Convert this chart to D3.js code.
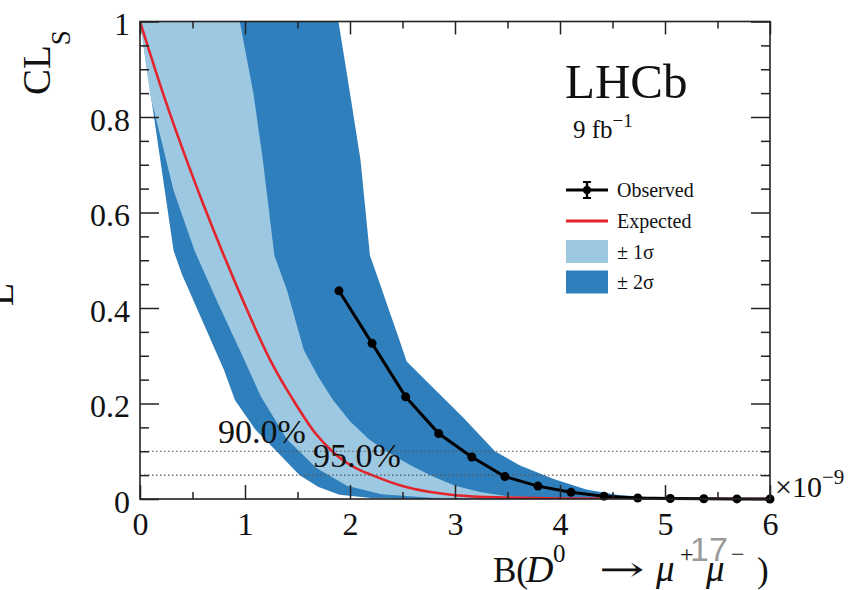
<!DOCTYPE html>
<html><head><meta charset="utf-8">
<script src="https://cdn.jsdelivr.net/npm/d3@7/dist/d3.min.js"></script>
<style>body{margin:0;background:#fff;} svg{display:block;}</style>
</head><body><svg id="c" width="856" height="590"></svg>
<script>
// ---- data, B in units of 1e-9 ----
const expectedX = [0, 0.22, 0.41, 0.60, 0.78, 0.98, 1.24, 1.46, 1.68, 1.83, 1.94, 2.07, 2.21, 2.5, 2.75, 3.0, 3.5, 4.0, 5.0, 6.0];
const expectedY = [1, 0.849, 0.73, 0.619, 0.52, 0.416, 0.291, 0.207, 0.135, 0.10, 0.08, 0.063, 0.05, 0.027, 0.015, 0.008, 0.003, 0.001, 0.0002, 0];

const minus2X = [0, 0.32, 0.40, 0.60, 0.80, 0.905, 1.10, 1.30, 1.52, 1.70, 1.90, 2.20, 2.60, 6.0];
const minus2Y = [1, 0.52, 0.47, 0.37, 0.27, 0.207, 0.145, 0.10, 0.05, 0.025, 0.009, 0.002, 0, 0];

const minus1X = [0, 0.095, 0.32, 0.52, 0.73, 0.95, 1.15, 1.40, 1.68, 1.97, 2.30, 2.80, 3.50, 6.0];
const minus1Y = [1, 0.848, 0.646, 0.52, 0.416, 0.312, 0.215, 0.125, 0.065, 0.028, 0.010, 0.002, 0, 0];

const plus1X = [0.95, 1.08, 1.17, 1.28, 1.40, 1.56, 1.70, 1.84, 2.00, 2.18, 2.36, 2.58, 2.78, 3.00, 3.25, 3.50, 4.00, 4.60, 6.0];
const plus1Y = [1, 0.85, 0.71, 0.51, 0.437, 0.312, 0.255, 0.207, 0.163, 0.125, 0.098, 0.07, 0.048, 0.028, 0.014, 0.006, 0.0015, 0, 0];

const plus2X = [1.89, 2.00, 2.10, 2.19, 2.27, 2.38, 2.46, 2.54, 2.76, 3.08, 3.38, 3.62, 3.94, 4.25, 4.57, 5.0, 5.5, 6.0];
const plus2Y = [1, 0.85, 0.71, 0.51, 0.46, 0.39, 0.34, 0.288, 0.24, 0.17, 0.10, 0.07, 0.042, 0.02, 0.008, 0.002, 0, 0];

const observedX = [1.895, 2.21, 2.53, 2.845, 3.16, 3.475, 3.79, 4.105, 4.42, 4.74, 5.05, 5.37, 5.685, 6.0];
const observedY = [0.436, 0.326, 0.214, 0.137, 0.088, 0.047, 0.027, 0.014, 0.006, 0.002, 0.001, 0.0005, 0.0002, 0.0001];
const observedErr = [0.008, 0.004, 0.003, 0.002, 0.002, 0.001, 0.001, 0, 0, 0, 0, 0, 0, 0];

const clLevels = [0.10, 0.05];
const clLabels = ["90.0%", "95.0%"];
const xTicks = [0, 1, 2, 3, 4, 5, 6];
const xMinorTicks = [0.5, 1.5, 2.5, 3.5, 4.5, 5.5];
const yTicks = [0, 0.2, 0.4, 0.6, 0.8, 1];
const yTickLabels = ["0", "0.2", "0.4", "0.6", "0.8", "1"];
const yMinorTicks = [0.05, 0.1, 0.15, 0.25, 0.3, 0.35, 0.45, 0.5, 0.55, 0.65, 0.7, 0.75, 0.85, 0.9, 0.95];
const legendItems = ["Observed", "Expected", "± 1σ", "± 2σ"];

// ---- drawing ----
const SERIF = "'Liberation Serif','Times New Roman',serif";
const LIGHT = "#9dc8e1", DARK = "#2f7fbd", RED = "#e3242b";
const svg = d3.select("#c");
const x = d3.scaleLinear().domain([0, 6]).range([140, 770]);
const y = d3.scaleLinear().domain([0, 1]).range([499, 21.5]);
const pts = (xs, ys) => xs.map((v, i) => [v, ys[i]]);
const line = d3.line().x(d => x(d[0])).y(d => y(d[1]));

svg.append("clipPath").attr("id", "clip").append("rect")
  .attr("x", 140).attr("y", 21.5).attr("width", 630).attr("height", 477.5);
const plot = svg.append("g").attr("clip-path", "url(#clip)");

const darkPoly = pts(minus2X, minus2Y).concat(pts(plus2X, plus2Y).reverse());
const lightPoly = pts(minus1X, minus1Y).concat(pts(plus1X, plus1Y).reverse());
plot.append("path").attr("d", line(darkPoly) + "Z").attr("fill", DARK);
plot.append("path").attr("d", line(lightPoly) + "Z").attr("fill", LIGHT);

// CL level dotted lines
clLevels.forEach(l => {
  svg.append("line").attr("x1", x(0)).attr("x2", x(6)).attr("y1", y(l)).attr("y2", y(l))
    .attr("stroke", "#555").attr("stroke-width", 1.2).attr("stroke-dasharray", "1.5,2.5");
});

// expected
plot.append("path").attr("d", d3.line().x(d => x(d[0])).y(d => y(d[1])).curve(d3.curveMonotoneX)(pts(expectedX, expectedY)))
  .attr("fill", "none").attr("stroke", RED).attr("stroke-width", 2.6);

// observed
const obs = pts(observedX, observedY);
svg.append("path").attr("d", line(obs)).attr("fill", "none").attr("stroke", "#000").attr("stroke-width", 3);
svg.selectAll(".oerr").data(obs.map((d, i) => [d[0], d[1], observedErr[i]]).filter(d => d[2] > 0)).enter()
  .append("line").attr("x1", d => x(d[0])).attr("x2", d => x(d[0]))
  .attr("y1", d => y(d[1] - d[2])).attr("y2", d => y(d[1] + d[2])).attr("stroke", "#000").attr("stroke-width", 3);
svg.selectAll(".opt").data(obs).enter().append("circle")
  .attr("cx", d => x(d[0])).attr("cy", d => y(d[1])).attr("r", 4.5).attr("fill", "#000");

// CL labels
svg.append("text").attr("x", 218).attr("y", 443).text(clLabels[0])
  .attr("font-family", SERIF).attr("font-size", 34).attr("fill", "#111");
svg.append("text").attr("x", 313).attr("y", 467).text(clLabels[1])
  .attr("font-family", SERIF).attr("font-size", 34).attr("fill", "#111");

// ---- axes / frame ----
function styleAxis(g) {
  g.select(".domain").remove();
  g.selectAll(".tick line").attr("stroke", "#222").attr("stroke-width", 1.5);
  g.selectAll("text").attr("font-family", SERIF).attr("font-size", 32).attr("fill", "#111");
}
svg.append("g").attr("transform", `translate(0,${y(0)})`)
  .call(d3.axisBottom(x).tickValues(xTicks).tickSize(-14).tickPadding(13).tickFormat(d3.format("d"))).call(styleAxis);
svg.append("g").attr("transform", `translate(0,${y(0)})`)
  .call(d3.axisBottom(x).tickValues(xMinorTicks).tickSize(-7).tickFormat("")).call(styleAxis);
svg.append("g").attr("transform", `translate(0,${y(1)})`)
  .call(d3.axisTop(x).tickValues(xTicks).tickSize(-13).tickFormat("")).call(styleAxis);
svg.append("g").attr("transform", `translate(0,${y(1)})`)
  .call(d3.axisTop(x).tickValues(xMinorTicks).tickSize(-7).tickFormat("")).call(styleAxis);
const yl = svg.append("g").attr("transform", `translate(${x(0)},0)`)
  .call(d3.axisLeft(y).tickValues(yTicks).tickSize(-19).tickPadding(10).tickFormat((d, i) => yTickLabels[i])).call(styleAxis);
yl.selectAll("text").attr("dy", "0.42em");
svg.append("g").attr("transform", `translate(${x(0)},0)`)
  .call(d3.axisLeft(y).tickValues(yMinorTicks).tickSize(-9).tickFormat("")).call(styleAxis);
svg.append("g").attr("transform", `translate(${x(6)},0)`)
  .call(d3.axisRight(y).tickValues(yTicks).tickSize(-19).tickFormat("")).call(styleAxis);
svg.append("g").attr("transform", `translate(${x(6)},0)`)
  .call(d3.axisRight(y).tickValues(yMinorTicks).tickSize(-9).tickFormat("")).call(styleAxis);
svg.append("rect").attr("x", x(0)).attr("y", y(1)).attr("width", x(6) - x(0)).attr("height", y(0) - y(1))
  .attr("fill", "none").attr("stroke", "#222").attr("stroke-width", 1.6);

// ×10^-9
const mult = svg.append("text").attr("x", 775).attr("y", 497).attr("font-family", SERIF).attr("font-size", 30).attr("fill", "#111");
mult.append("tspan").text("×10");
mult.append("tspan").attr("font-size", 21).attr("dy", -13).text("−9");

// x-axis title
const xt = svg.append("text").attr("font-family", SERIF).attr("font-size", 35).attr("fill", "#111");
xt.append("tspan").attr("x", 493).attr("y", 582).text("B(");
xt.append("tspan").attr("x", 526).attr("y", 582).attr("font-size", 38).attr("font-style", "italic").text("D");
xt.append("tspan").attr("x", 553).attr("y", 562).attr("font-size", 25).text("0");
xt.append("tspan").attr("x", 656).attr("y", 581).attr("font-size", 37).attr("font-style", "italic").text("μ");
xt.append("tspan").attr("x", 680).attr("y", 562).attr("font-size", 24).text("+");
xt.append("tspan").attr("x", 706).attr("y", 581).attr("font-size", 37).attr("font-style", "italic").text("μ");
xt.append("tspan").attr("x", 731).attr("y", 562).attr("font-size", 24).text("−");
xt.append("tspan").attr("x", 757).attr("y", 582).text(")");
svg.append("text").attr("transform", "translate(599,581) scale(1.6,1)")
  .attr("font-family", "'DejaVu Serif',serif").attr("font-size", 34).attr("fill", "#111").text("→");

svg.append("text").attr("x", 690).attr("y", 561).text("17")
  .attr("font-family", "'Liberation Sans',Arial,sans-serif").attr("font-size", 34).attr("fill", "#9a9a9a");

// y-axis title
const yt = svg.append("text").attr("transform", "translate(50,95) rotate(-90)")
  .attr("font-family", SERIF).attr("font-size", 39).attr("fill", "#111");
yt.append("tspan").text("CL");
yt.append("tspan").attr("font-size", 27).attr("dy", 20).text("S");

svg.append("text").attr("transform", "translate(13,306) rotate(-90)")
  .attr("font-family", SERIF).attr("font-size", 38).attr("fill", "#111").text("L");

// LHCb label
svg.append("text").attr("x", 565).attr("y", 98).text("LHCb")
  .attr("font-family", SERIF).attr("font-size", 49).attr("fill", "#111");
const lum = svg.append("text").attr("x", 573).attr("y", 138).attr("font-family", SERIF).attr("font-size", 25).attr("fill", "#111");
lum.append("tspan").text("9 fb");
lum.append("tspan").attr("font-size", 19).attr("dy", -11).text("−1");

// legend
const lx0 = 566, lx1 = 608, ltx = 617;
const lrows = [190, 221, 251.5, 282];
svg.append("line").attr("x1", lx0).attr("x2", lx1).attr("y1", lrows[0]).attr("y2", lrows[0]).attr("stroke", "#000").attr("stroke-width", 3);
svg.append("line").attr("x1", (lx0 + lx1) / 2).attr("x2", (lx0 + lx1) / 2).attr("y1", lrows[0] - 8).attr("y2", lrows[0] + 8).attr("stroke", "#000").attr("stroke-width", 2.5);
[-8, 8].forEach(o => svg.append("line").attr("x1", (lx0 + lx1) / 2 - 4).attr("x2", (lx0 + lx1) / 2 + 4)
  .attr("y1", lrows[0] + o).attr("y2", lrows[0] + o).attr("stroke", "#000").attr("stroke-width", 2));
svg.append("circle").attr("cx", (lx0 + lx1) / 2).attr("cy", lrows[0]).attr("r", 4).attr("fill", "#000");
svg.append("line").attr("x1", lx0).attr("x2", lx1).attr("y1", lrows[1]).attr("y2", lrows[1]).attr("stroke", RED).attr("stroke-width", 3);
svg.append("rect").attr("x", lx0).attr("y", lrows[2] - 11.5).attr("width", lx1 - lx0).attr("height", 23).attr("fill", LIGHT);
svg.append("rect").attr("x", lx0).attr("y", lrows[3] - 11.5).attr("width", lx1 - lx0).attr("height", 23).attr("fill", DARK);
legendItems.forEach((t, i) => {
  svg.append("text").attr("x", ltx).attr("y", lrows[i] + 7).text(t)
    .attr("font-family", SERIF).attr("font-size", 20).attr("fill", "#111");
});
</script></body></html>
